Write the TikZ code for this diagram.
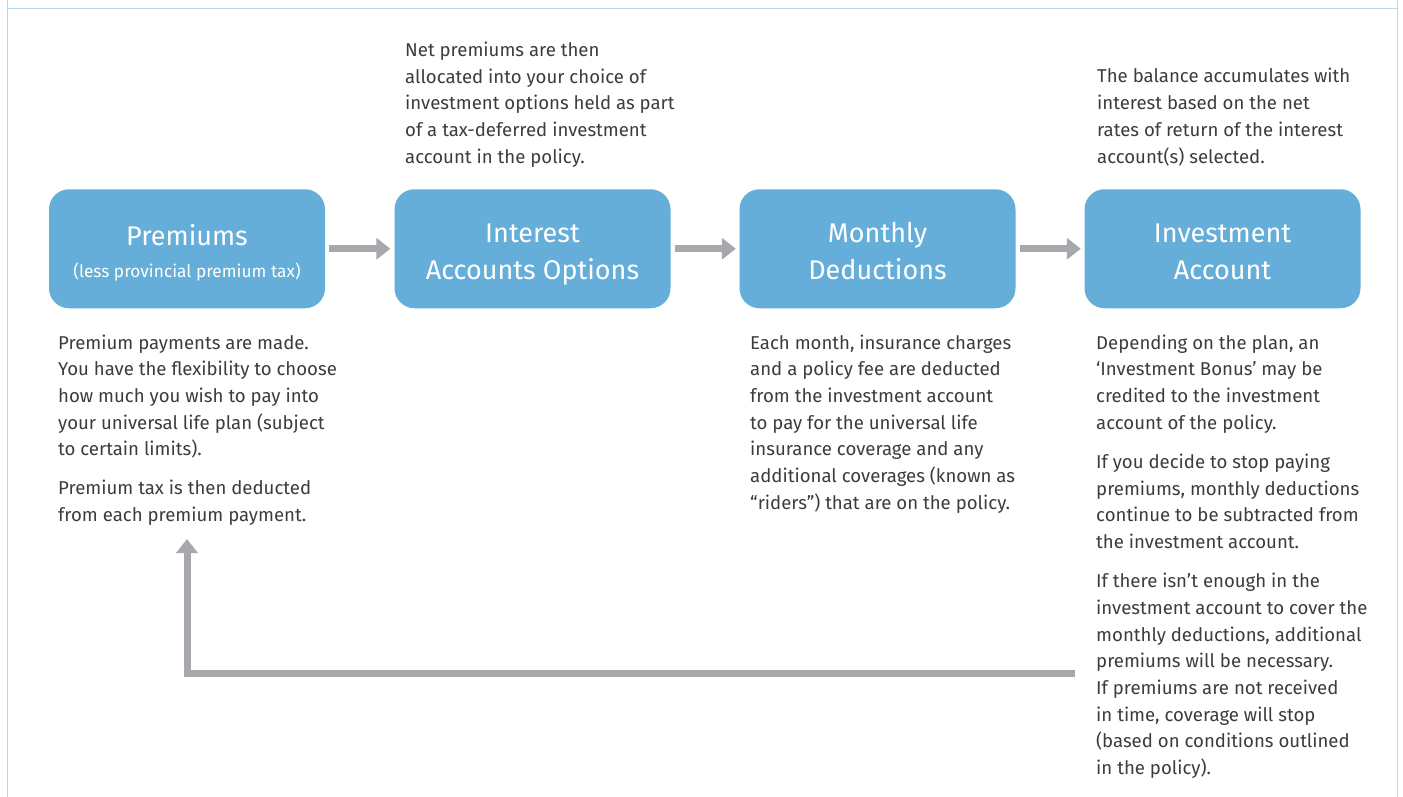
\documentclass[tikz,border=0pt]{standalone}
\usepackage{fontspec}
\setmainfont{Fira Sans}
\usetikzlibrary{arrows.meta}
\definecolor{boxblue}{HTML}{66AEDA}
\definecolor{arrowgray}{HTML}{A7A8AB}
\definecolor{txtgray}{HTML}{3C3C3B}
\definecolor{frameblue}{HTML}{B3DAF0}
\begin{document}
\begin{tikzpicture}[x=1pt,y=-1pt,
  stepbox/.style={draw=none, fill=boxblue, rounded corners=20pt, minimum width=276pt, minimum height=119pt, inner sep=0pt},
  steptitle/.style={anchor=base, inner sep=0pt, text=white, align=center, font=\fontsize{27}{37}\selectfont},
  desc/.style={anchor=base west, inner sep=0pt, align=left, text=txtgray, font=\fontsize{18.6}{26.7}\selectfont},
  flow/.style={draw=arrowgray, line width=7pt, -{Triangle[width=21pt,length=14pt]}},
  frameline/.style={draw=frameblue, line width=1.4pt}]
\useasboundingbox (0,0) rectangle (1403,797);
\draw[frameline] (7.5,0) -- (7.5,797);
\draw[frameline] (1397.7,0) -- (1397.7,797);
\draw[frameline] (7.5,8.7) -- (1397.7,8.7);

\node[stepbox] (b1) at (187,248.75) {};
\node[stepbox] (b2) at (532.5,248.75) {};
\node[stepbox] (b3) at (877.5,248.75) {};
\node[stepbox] (b4) at (1222.5,248.75) {};

\node[steptitle] (b1t) at ([shift={(0,28.25)}]b1.center) {Premiums\\[-5pt]{\fontsize{17.3}{20}\selectfont (less provincial premium tax)}};
\node[steptitle] (b2t) at ([shift={(0,30.25)}]b2.center) {Interest\\Accounts Options};
\node[steptitle] (b3t) at ([shift={(0,30.25)}]b3.center) {Monthly\\Deductions};
\node[steptitle] (b4t) at ([shift={(0,30.25)}]b4.center) {Investment\\Account};

\draw[flow, shorten <=4pt, shorten >=4pt] (b1) -- (b2);
\draw[flow, shorten <=4.5pt, shorten >=3.5pt] (b2) -- (b3);
\draw[flow, shorten <=4.5pt, shorten >=3.5pt] (b3) -- (b4);

\node[desc] (t1) at (58,521.5) {Premium payments are made.\\
You have the flexibility to choose\\
how much you wish to pay into\\
your universal life plan (subject\\
to certain limits).\\[12.3pt]
Premium tax is then deducted\\
from each premium payment.};

\node[desc] (t2) at (405,163.3) {Net premiums are then\\
allocated into your choice of\\
investment options held as part\\
of a tax-deferred investment\\
account in the policy.};

\node[desc] (t3) at (750,509.2) {Each month, insurance charges\\
and a policy fee are deducted\\
from the investment account\\
to pay for the universal life\\
insurance coverage and any\\
additional coverages (known as\\
“riders”) that are on the policy.};

\node[desc] (t4) at (1097,163.1) {The balance accumulates with\\
interest based on the net\\
rates of return of the interest\\
account(s) selected.};

\node[desc] (t5) at (1096,774.5) {Depending on the plan, an\\
‘Investment Bonus’ may be\\
credited to the investment\\
account of the policy.\\[12.5pt]
If you decide to stop paying\\
premiums, monthly deductions\\
continue to be subtracted from\\
the investment account.\\[12.5pt]
If there isn’t enough in the\\
investment account to cover the\\
monthly deductions, additional\\
premiums will be necessary.\\
If premiums are not received\\
in time, coverage will stop\\
(based on conditions outlined\\
in the policy).};

\coordinate (fbs) at (1075,673.5);
\coordinate (fbe) at (187,539);
\draw[flow, line join=miter] (fbs) -| (fbe);
\end{tikzpicture}
\end{document}
